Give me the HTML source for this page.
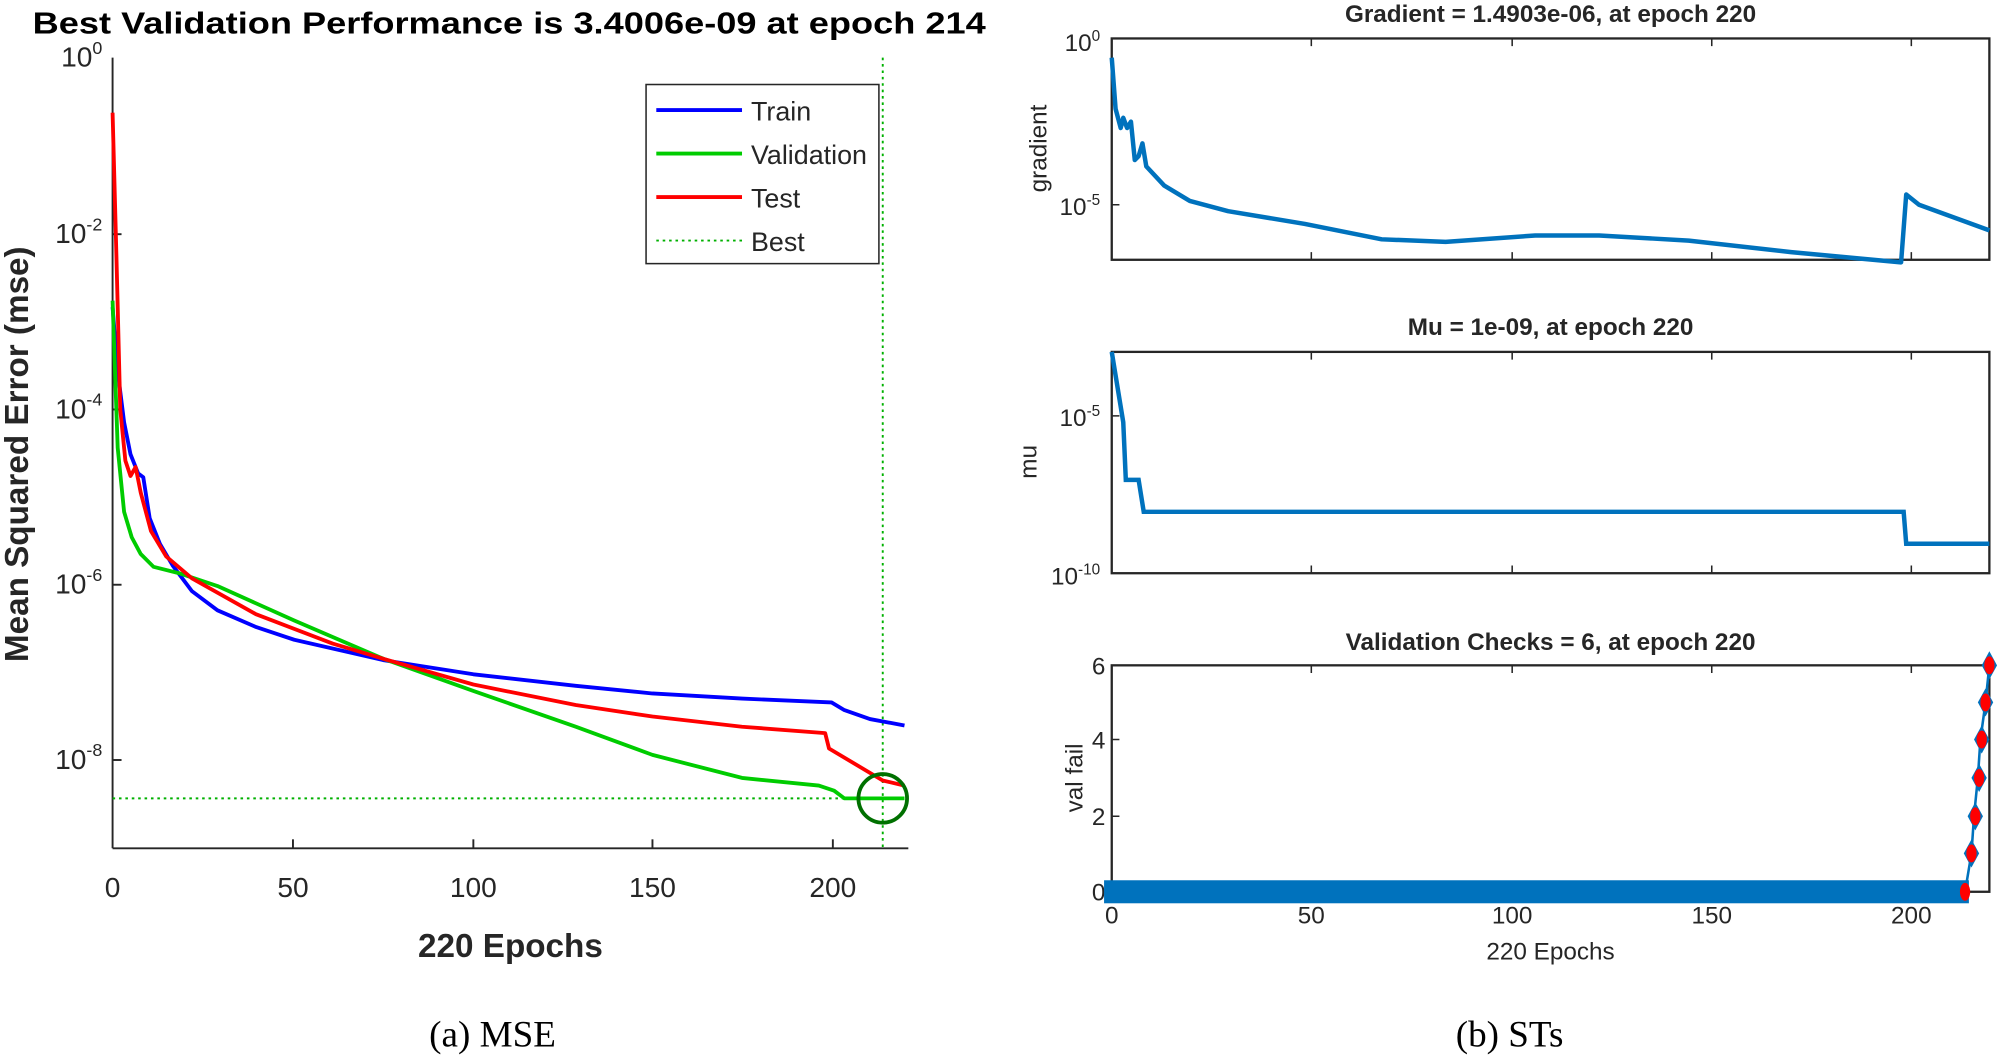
<!DOCTYPE html><html><head><style>html,body{margin:0;padding:0;background:#fff}svg{display:block}</style></head><body>
<svg width="2006" height="1062" viewBox="0 0 1568 830" xmlns="http://www.w3.org/2000/svg" font-family="Liberation Sans, sans-serif">
<rect width="1568" height="830" fill="#fff"/>
<text x="398" y="26" font-size="24" font-weight="bold" text-anchor="middle" textLength="745" lengthAdjust="spacingAndGlyphs">Best Validation Performance is 3.4006e-09 at epoch 214</text>
<g stroke="#262626" stroke-width="1.5" fill="none">
<line x1="88" y1="45" x2="88" y2="663"/><line x1="88" y1="663" x2="710" y2="663"/>
<line x1="229" y1="663" x2="229" y2="656"/><line x1="370" y1="663" x2="370" y2="656"/><line x1="510" y1="663" x2="510" y2="656"/><line x1="651" y1="663" x2="651" y2="656"/>
<line x1="88" y1="183" x2="95" y2="183"/><line x1="88" y1="320" x2="95" y2="320"/><line x1="88" y1="457" x2="95" y2="457"/><line x1="88" y1="594" x2="95" y2="594"/>
</g>
<g font-size="22" fill="#262626" text-anchor="end">
<text x="80" y="52">10<tspan font-size="14" dy="-10">0</tspan></text>
<text x="80" y="190">10<tspan font-size="14" dy="-10">-2</tspan></text>
<text x="80" y="327">10<tspan font-size="14" dy="-10">-4</tspan></text>
<text x="80" y="464">10<tspan font-size="14" dy="-10">-6</tspan></text>
<text x="80" y="601">10<tspan font-size="14" dy="-10">-8</tspan></text>
</g>
<g font-size="22" fill="#262626" text-anchor="middle">
<text x="88" y="701">0</text><text x="229" y="701">50</text><text x="370" y="701">100</text><text x="510" y="701">150</text><text x="651" y="701">200</text>
</g>
<text x="399" y="748" font-size="26" font-weight="bold" text-anchor="middle" fill="#262626">220 Epochs</text>
<text transform="translate(22,355) rotate(-90)" font-size="26" font-weight="bold" text-anchor="middle" fill="#262626">Mean Squared Error  (mse)</text>
<line x1="88" y1="624" x2="690" y2="624" stroke="#00b000" stroke-width="1.5" stroke-dasharray="2,3"/>
<line x1="690" y1="45" x2="690" y2="663" stroke="#00b000" stroke-width="1.5" stroke-dasharray="2,3"/>
<polyline fill="none" stroke="#0000ff" stroke-width="3" stroke-linejoin="round" points="88,240 92,290 97,330 102,355 108,370 112,373 117,405 125,425 135,442 150,462 170,477 200,490 230,500 300,516 370,527 450,536 510,542 580,546 650,549 660,555 680,562 707,567"/>
<polyline fill="none" stroke="#00cc00" stroke-width="3" stroke-linejoin="round" points="88,235 92,350 97,400 103,420 110,433 120,443 140,448 170,458 230,485 300,515 370,540 450,568 510,590 580,608 640,614 652,618 660,624 707,624"/>
<polyline fill="none" stroke="#ff0000" stroke-width="3" stroke-linejoin="round" points="88,88 91,200 94,320 98,360 102,372 106,365 110,385 118,415 130,435 150,452 200,480 260,503 300,515 370,535 450,551 510,560 580,568 645,573 648,585 690,610 707,614"/>
<circle cx="690" cy="624" r="19" fill="none" stroke="#007000" stroke-width="3"/>
<rect x="505" y="66" width="182" height="140" fill="#fff" stroke="#262626" stroke-width="1.2"/>
<line x1="513" y1="86" x2="580" y2="86" stroke="#0000ff" stroke-width="3"/>
<line x1="513" y1="120" x2="580" y2="120" stroke="#00cc00" stroke-width="3"/>
<line x1="513" y1="154" x2="580" y2="154" stroke="#ff0000" stroke-width="3"/>
<line x1="513" y1="188" x2="580" y2="188" stroke="#00b000" stroke-width="1.5" stroke-dasharray="2,3"/>
<g font-size="21" fill="#262626"><text x="587" y="94">Train</text><text x="587" y="128">Validation</text><text x="587" y="162">Test</text><text x="587" y="196">Best</text></g>
<g font-size="19" font-weight="bold" fill="#262626" text-anchor="middle">
<text x="1212" y="17">Gradient = 1.4903e-06, at epoch 220</text>
<text x="1212" y="262">Mu = 1e-09, at epoch 220</text>
<text x="1212" y="508">Validation Checks = 6, at epoch 220</text>
</g>
<g fill="none" stroke="#262626" stroke-width="1.8">
<rect x="869" y="30" width="686" height="173"/>
<rect x="869" y="275" width="686" height="173"/>
<rect x="869" y="520" width="686" height="177"/>
</g>
<g stroke="#262626" stroke-width="1.2">
<path d="M1025,203v-6M1182,203v-6M1338,203v-6M1494,203v-6M1025,30v6M1182,30v6M1338,30v6M1494,30v6"/>
<path d="M1025,448v-6M1182,448v-6M1338,448v-6M1494,448v-6M1025,275v6M1182,275v6M1338,275v6M1494,275v6"/>
<path d="M1025,697v-6M1182,697v-6M1338,697v-6M1494,697v-6M1025,520v6M1182,520v6M1338,520v6M1494,520v6"/>
<path d="M869,160h6M869,325h6M869,638h6M869,578h6"/>
</g>
<g font-size="19" fill="#262626" text-anchor="end">
<text x="860" y="40">10<tspan font-size="12" dy="-8">0</tspan></text>
<text x="860" y="168">10<tspan font-size="12" dy="-8">-5</tspan></text>
<text x="860" y="333">10<tspan font-size="12" dy="-8">-5</tspan></text>
<text x="860" y="457">10<tspan font-size="12" dy="-8">-10</tspan></text>
<text x="864" y="527">6</text><text x="864" y="585">4</text><text x="864" y="645">2</text><text x="864" y="704">0</text>
</g>
<g font-size="19" fill="#262626" text-anchor="middle">
<text transform="translate(818,116) rotate(-90)">gradient</text>
<text transform="translate(810,361) rotate(-90)">mu</text>
<text transform="translate(846,608) rotate(-90)">val fail</text>
<text x="869" y="722">0</text><text x="1025" y="722">50</text><text x="1182" y="722">100</text><text x="1338" y="722">150</text><text x="1494" y="722">200</text>
<text x="1212" y="750">220 Epochs</text>
</g>
<polyline fill="none" stroke="#0072bd" stroke-width="3.5" stroke-linejoin="round" points="869,45 872,85 876,100 878,92 881,100 884,95 887,125 890,122 893,112 896,130 910,145 930,157 960,165 1020,175 1080,187 1130,189 1200,184 1250,184 1320,188 1400,197 1486,205 1490,152 1500,160 1555,180"/>
<polyline fill="none" stroke="#0072bd" stroke-width="3.5" points="869,275 878,330 880,375 890,375 894,400 1488,400 1490,425 1555,425"/>
<polyline fill="none" stroke="#0072bd" stroke-width="2" points="869,697 1536,697 1541,667 1543,638 1546,608 1548,578 1552,549 1555,520"/>
<rect x="863" y="688" width="676" height="18" fill="#0072bd"/>
<g fill="#0072bd">
<path d="M1541,656l6,11l-6,11l-6,-11z"/><path d="M1544,627l6,11l-6,11l-6,-11z"/><path d="M1547,597l6,11l-6,11l-6,-11z"/><path d="M1549,567l6,11l-6,11l-6,-11z"/><path d="M1552,538l6,11l-6,11l-6,-11z"/><path d="M1555,509l6,11l-6,11l-6,-11z"/>
</g>
<g fill="#ff0000">
<ellipse cx="1536" cy="697" rx="4" ry="7"/><ellipse cx="1541" cy="667" rx="4" ry="7"/><ellipse cx="1544" cy="638" rx="4" ry="7"/><ellipse cx="1547" cy="608" rx="4" ry="7"/><ellipse cx="1549" cy="578" rx="4" ry="7"/><ellipse cx="1552" cy="549" rx="4" ry="7"/><ellipse cx="1555" cy="520" rx="4" ry="7"/>
</g>
<text x="385" y="818" font-family="Liberation Serif, serif" font-size="29" text-anchor="middle" fill="#000">(a) MSE</text>
<text x="1180" y="818" font-family="Liberation Serif, serif" font-size="29" text-anchor="middle" fill="#000">(b) STs</text>
</svg>
</body></html>
